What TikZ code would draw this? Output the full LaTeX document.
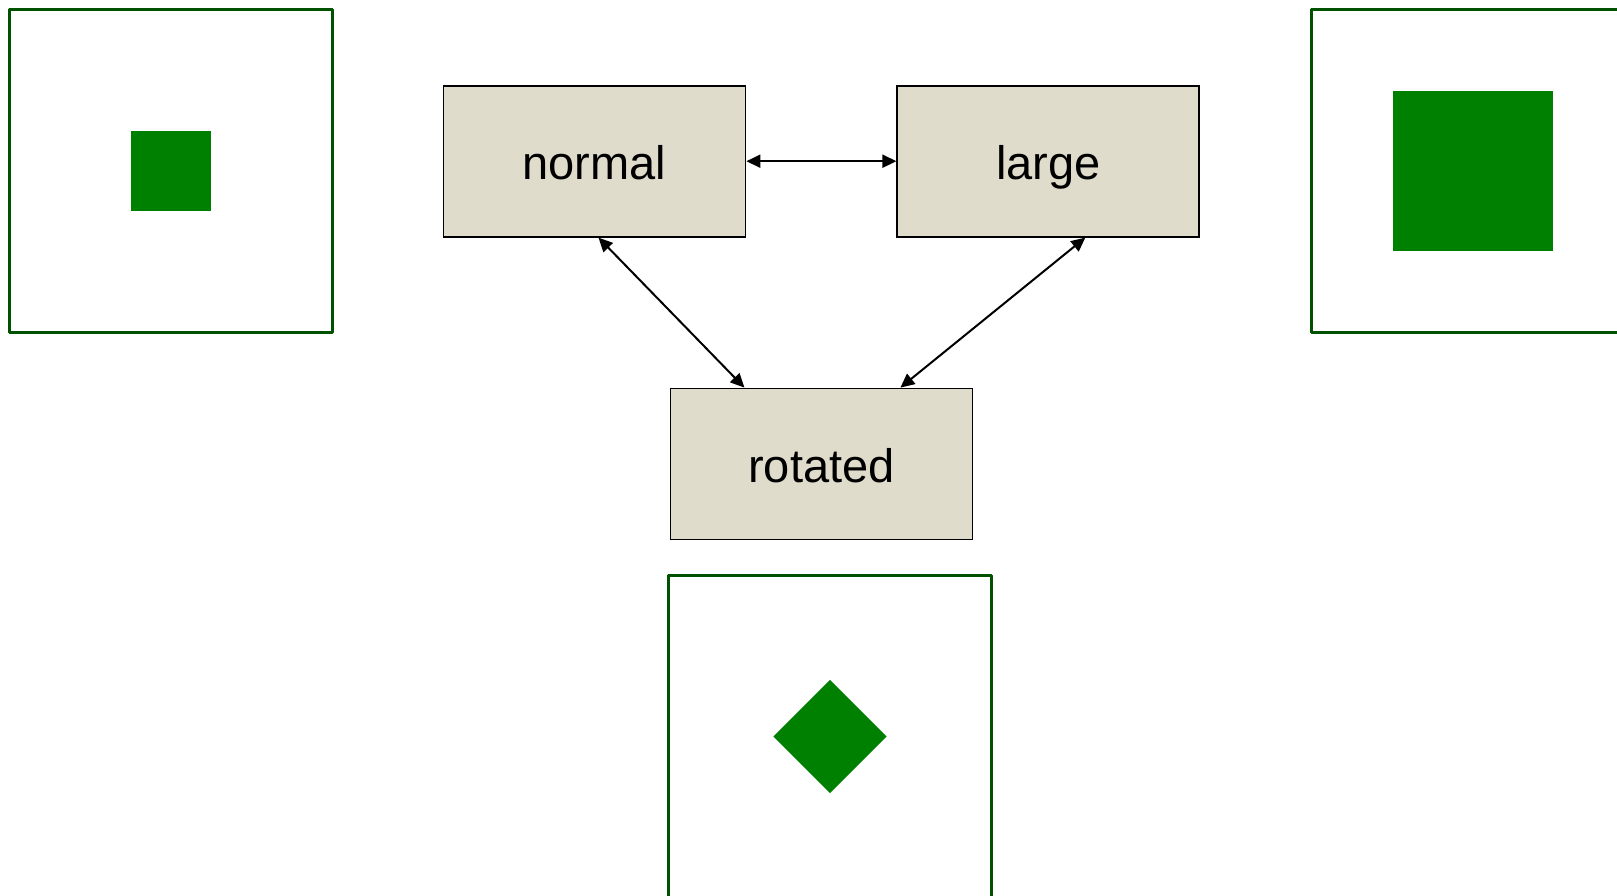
\documentclass[tikz,border=0pt]{standalone}
\usepackage{fontspec}
\setmainfont{Liberation Sans}
\usetikzlibrary{arrows.meta}
\definecolor{boxfill}{HTML}{E0DCCB}
\definecolor{framegreen}{HTML}{005200}
\definecolor{shapegreen}{HTML}{008000}
\tikzset{
  statebox/.style={draw=black, line width=1.8pt, fill=boxfill, minimum width=302pt, minimum height=151pt, inner sep=0pt, text height=37pt, text depth=0pt, font=\fontsize{47}{56}\selectfont},
  preview/.style={draw=framegreen, line width=3pt, line join=round, minimum size=323pt, inner sep=0pt},
  glyph/.style={fill=shapegreen, inner sep=0pt},
  link/.style={draw=black, line width=2pt, {Triangle[length=14pt,width=13pt]}-{Triangle[length=14pt,width=13pt]}}
}
\begin{document}
\begin{tikzpicture}[x=1pt,y=-1pt]
\useasboundingbox (0,0) rectangle (1617,895);
% preview frames
\node[preview] (fnormal) at (170.5,170.5) {};
\node[preview] (flarge) at (1472.5,170.5) {};
\node[preview] (frotated) at (830,736.5) {};
\node[glyph, minimum size=80pt] (snormal) at (fnormal.center) {};
\node[glyph, minimum size=160pt] (slarge) at (flarge.center) {};
\node[glyph, minimum size=80pt, rotate=45] (srotated) at (frotated.center) {};
% states
\node[statebox] (normal) at (594.5,161.2) {normal};
\node[statebox] (large) at (1048.3,161.2) {large};
\node[statebox] (rotated) at (821.4,464) {rotated};
% connectors
\draw[link] (normal.east) -- (large.west);
\draw[link] ([xshift=4pt]normal.south) -- ([xshift=-77pt]rotated.north);
\draw[link] ([xshift=37pt]large.south) -- ([xshift=79pt]rotated.north);
\end{tikzpicture}
\end{document}
